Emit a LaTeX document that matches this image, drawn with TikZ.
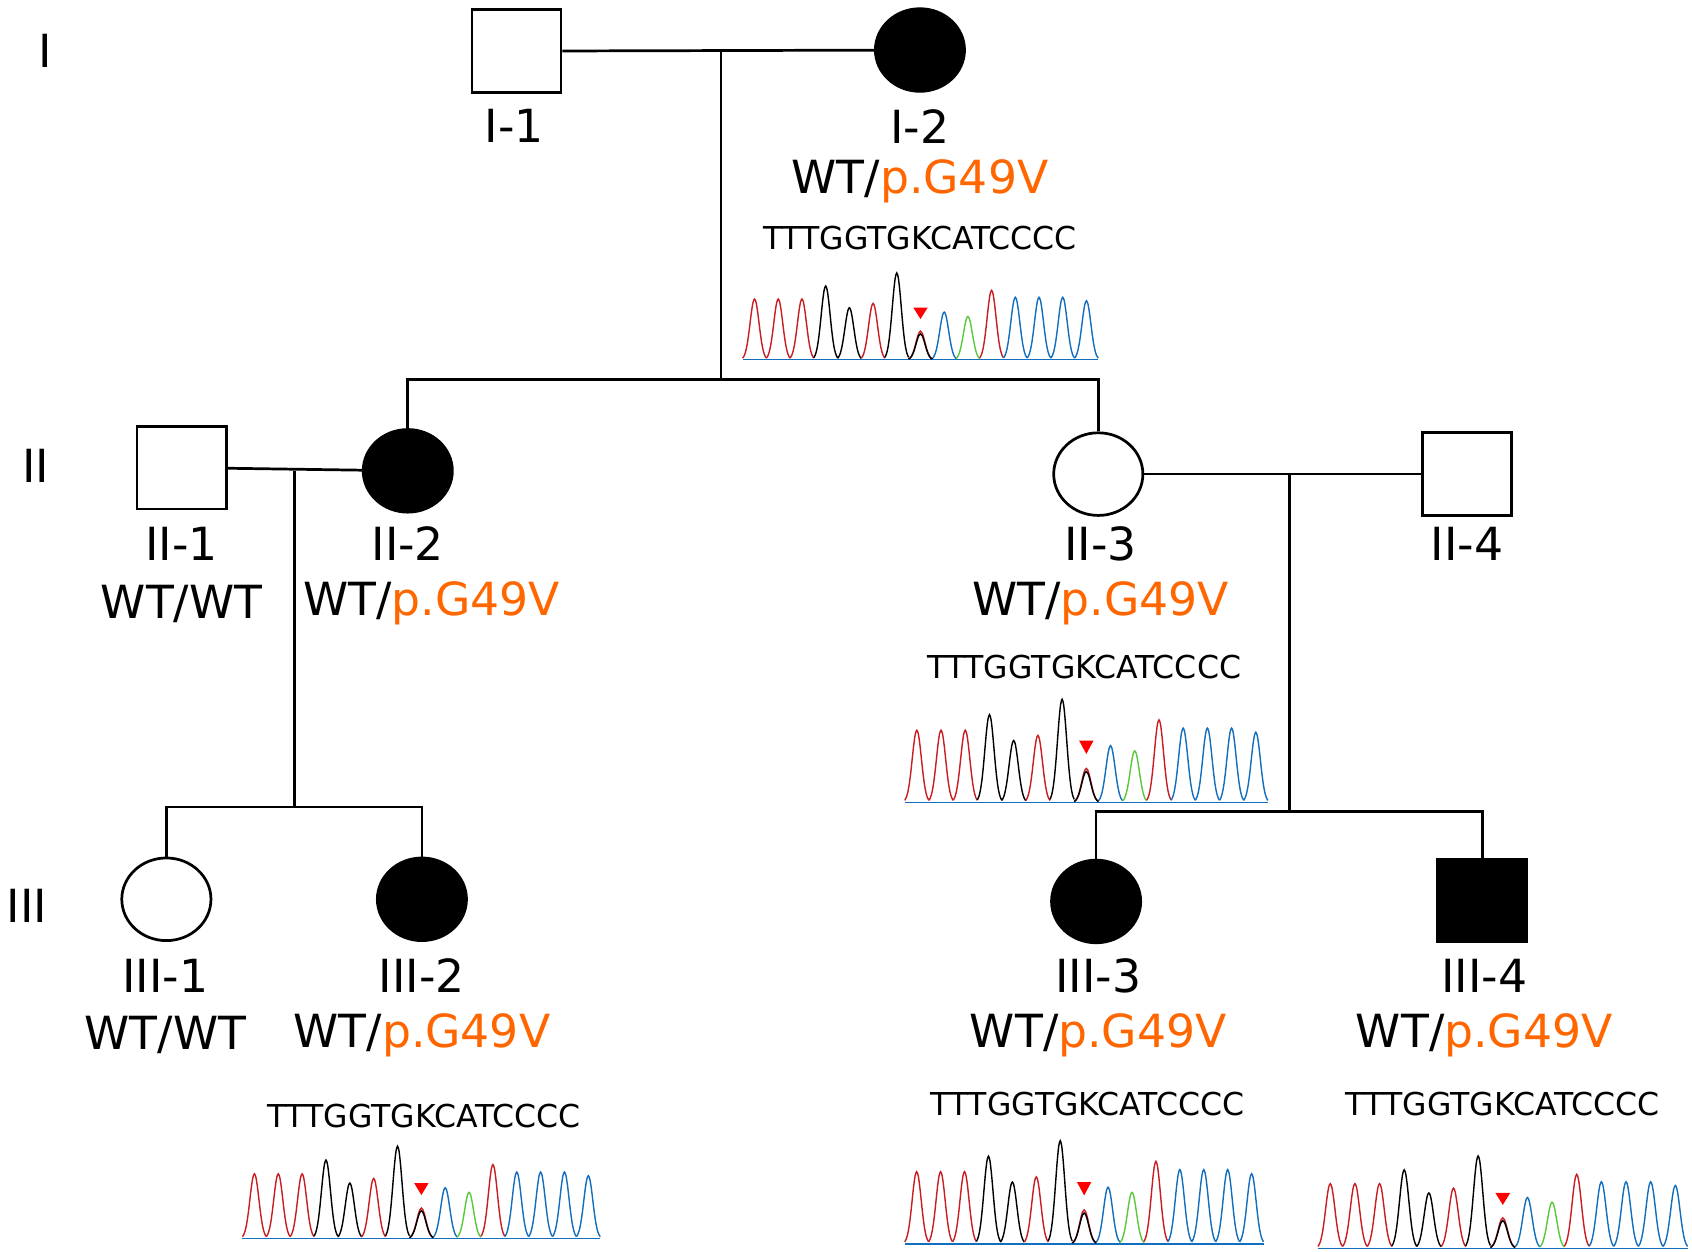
\documentclass[tikz,border=0pt]{standalone}
\usepackage{fontspec}
\setmainfont{DejaVu Sans}
\definecolor{cr}{RGB}{200,30,35}
\definecolor{cb}{RGB}{20,110,190}
\definecolor{cg}{RGB}{90,200,60}
\definecolor{orng}{RGB}{255,102,0}
\tikzset{
 ind/.style={draw,line width=2.5pt,minimum width=82pt,minimum height=76pt,inner sep=0},
 m/.style={ind,rectangle},
 f/.style={ind,ellipse},
 aff/.style={fill=black},
 lab/.style={font=\fontsize{42}{46}\selectfont,inner sep=0},
 seq/.style={font=\fontsize{29}{32}\selectfont,inner sep=0},
 ln/.style={line width=2.5pt},
}
\usetikzlibrary{shapes.geometric}
\newcommand\geno{WT/\textcolor{orng}{p.G49V}}
\newcommand\chrom[4]{%
\begin{scope}[shift={(#1,#3)},xscale={(#2-#1)/15},yscale=#4]
 \draw[cb,line width=1pt] (0,0) -- (15,0);
 \foreach \i/\c/\h in {0/cr/.7,1/cr/.7,2/cr/.7,3/black/.85,4/black/.6,5/cr/.65,6/black/1,7/cr/.33,8/cb/.55,9/cg/.5,10/cr/.8,11/cb/.72,12/cb/.72,13/cb/.72,14/cb/.68}
  \draw[\c,line width=1.3pt] plot[domain=-0.5:0.5,samples=17,smooth] ({\i+0.5+\x},{-\h*exp(-14*\x*\x)});
 \draw[black,line width=1.3pt] plot[domain=-0.5:0.5,samples=17,smooth] ({7.5+\x},{-.3*exp(-14*\x*\x)});
 \fill[red] (7.2,-.6) -- (7.8,-.6) -- (7.5,-.47) -- cycle;
\end{scope}}
\begin{document}
\begin{tikzpicture}[x=1pt,y=-1pt]
\useasboundingbox (0,0) rectangle (1556,1151);
\node[lab] (gI) at (42,47) {I};
\node[lab] (gII) at (33,428) {II};
\node[lab] (gIII) at (25,833) {III};
% gen I
\node[m] (i1) at (475,47) {};
\node[f,aff] (i2) at (846,46) {};
\coordinate (m1) at (663,46);
\coordinate (s1) at (663,349);
\draw[ln] (i1) -- (i2);
\draw[ln] (m1) -- (s1);
\node[lab] (li1) at (473,116) {I-1};
\node[lab] (li2) at (846,116) {I-2};
\node[lab] (gi2) at (846,167) {\geno};
\node[seq] (qi2) at (846,219) {TTTGGTGKCATCCCC};
\chrom{683}{1010}{331}{80}
% gen II
\node[m] (ii1) at (167,430) {};
\node[f,aff] (ii2) at (375,433) {};
\node[f] (ii3) at (1010,436) {};
\node[m] (ii4) at (1349,436) {};
\coordinate (a2) at (375,349);
\coordinate (a3) at (1010,349);
\draw[ln] (ii2.north) -- (a2) -- (a3) -- (ii3.north);
\draw[ln] (ii1) -- (ii2);
\draw[ln] (ii3) -- (ii4);
\coordinate (m2) at (271,433);
\coordinate (s2) at (271,742);
\coordinate (m3) at (1186,436);
\coordinate (s3) at (1186,746);
\draw[ln] (m2) -- (s2);
\draw[ln] (m3) -- (s3);
\node[lab] (lii1) at (167,500) {II-1};
\node[lab] (gii1) at (167,555) {WT/WT};
\node[lab] (lii2) at (375,500) {II-2};
\node[lab] (gii2) at (397,555) {\geno};
\node[lab] (lii3) at (1012,500) {II-3};
\node[lab] (gii3) at (1012,555) {\geno};
\node[seq] (qii3) at (997,613) {TTTGGTGKCATCCCC};
\chrom{832}{1166}{738}{95}
\node[lab] (lii4) at (1349,500) {II-4};
% gen III
\node[f] (iii1) at (153,827) {};
\node[f,aff] (iii2) at (388,827) {};
\node[f,aff] (iii3) at (1008,829) {};
\node[m,aff] (iii4) at (1363,828) {};
\coordinate (b1) at (153,742);
\coordinate (b2) at (388,742);
\coordinate (b3) at (1008,746);
\coordinate (b4) at (1363,746);
\draw[ln] (iii1.north) -- (b1) -- (b2) -- (iii2.north);
\draw[ln] (iii3.north) -- (b3) -- (b4) -- (iii4.north);
\node[lab] (liii1) at (152,897) {III-1};
\node[lab] (giii1) at (152,952) {WT/WT};
\node[lab] (liii2) at (388,897) {III-2};
\node[lab] (giii2) at (388,952) {\geno};
\node[seq] (qiii2) at (390,1026) {TTTGGTGKCATCCCC};
\chrom{223}{552}{1139}{85}
\node[lab] (liii3) at (1010,897) {III-3};
\node[lab] (giii3) at (1010,952) {\geno};
\node[seq] (qiii3) at (1000,1015) {TTTGGTGKCATCCCC};
\chrom{832}{1162}{1144}{95}
\node[lab] (liii4) at (1365,897) {III-4};
\node[lab] (giii4) at (1365,952) {\geno};
\node[seq] (qiii4) at (1382,1015) {TTTGGTGKCATCCCC};
\chrom{1212}{1552}{1148}{85}
\end{tikzpicture}
\end{document}
